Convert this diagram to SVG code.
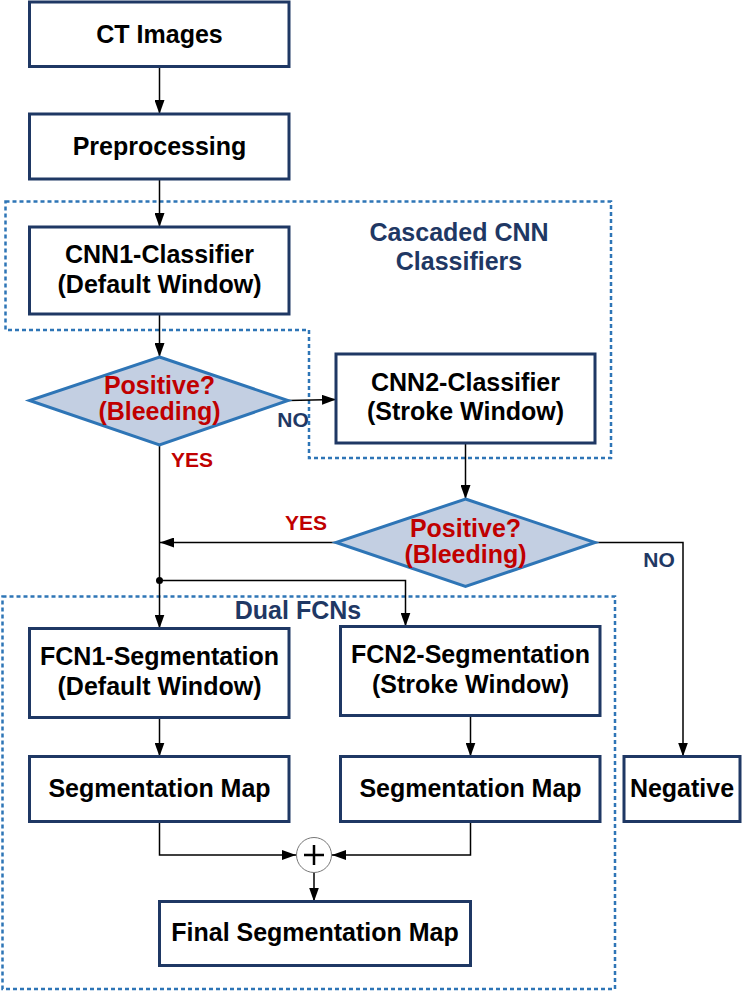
<svg xmlns="http://www.w3.org/2000/svg" width="742" height="992" viewBox="0 0 742 992">
<style>
.box{fill:#fff;stroke:#1F3864;stroke-width:3}
.dia{fill:#C3CFE2;stroke:#2E75B6;stroke-width:3}
.grp{fill:none;stroke:#2E75B6;stroke-width:2.5;stroke-dasharray:4 3}
.t{font-family:"Liberation Sans",Arial,sans-serif;font-weight:bold;font-size:25px;text-anchor:middle;fill:#000}
.r{fill:#C00000}
.b{fill:#1F3864}
.s{font-size:21px}
.c{fill:none;stroke:#000;stroke-width:1.5}
</style>
<defs>
<marker id="ah" viewBox="0 0 14 10" refX="14" refY="5" markerWidth="14" markerHeight="10" markerUnits="userSpaceOnUse" orient="auto">
<path d="M0,0 L14,5 L0,10 Z" fill="#000"/>
</marker>
</defs>
<g id="groups">
<polygon class="grp" points="5.5,201.5 611,201.5 611,458 309,458 309,330 5.5,330"/>
<rect class="grp" x="2.5" y="596.5" width="612.5" height="392.5"/>
<text class="t b" x="459" y="241">Cascaded CNN</text>
<text class="t b" x="459" y="270">Classifiers</text>
<text class="t b" x="298" y="619">Dual FCNs</text>
</g>
<g id="connectors">
<line class="c" x1="159.5" y1="66" x2="159.5" y2="114" marker-end="url(#ah)"/>
<line class="c" x1="159.5" y1="179" x2="159.5" y2="227" marker-end="url(#ah)"/>
<line class="c" x1="159.5" y1="314" x2="159.5" y2="357" marker-end="url(#ah)"/>
<line class="c" x1="288" y1="400.5" x2="336" y2="399.5" marker-end="url(#ah)"/>
<line class="c" x1="465.5" y1="443" x2="465.5" y2="499" marker-end="url(#ah)"/>
<line class="c" x1="336" y1="542.5" x2="160" y2="542.5" marker-end="url(#ah)"/>
<polyline class="c" points="595,542.5 683,542.5 683,756.5" marker-end="url(#ah)"/>
<line class="c" x1="159.5" y1="445" x2="159.5" y2="628.5" marker-end="url(#ah)"/>
<polyline class="c" points="159.5,580.5 405.5,580.5 405.5,626.5" marker-end="url(#ah)"/>
<circle cx="159.5" cy="580.5" r="3.5" fill="#000"/>
<line class="c" x1="159.5" y1="717.5" x2="159.5" y2="756.5" marker-end="url(#ah)"/>
<line class="c" x1="470.5" y1="715.5" x2="470.5" y2="756.5" marker-end="url(#ah)"/>
<polyline class="c" points="159.5,822 159.5,855 296,855" marker-end="url(#ah)"/>
<polyline class="c" points="470.5,822 470.5,855 332,855" marker-end="url(#ah)"/>
<line class="c" x1="314" y1="872.5" x2="314" y2="901.5" marker-end="url(#ah)"/>
<text class="t b s" x="293" y="427">NO</text>
<text class="t r s" x="192" y="467">YES</text>
<text class="t r s" x="306" y="530">YES</text>
<text class="t b s" x="659" y="567">NO</text>
</g>
<g id="ct">
<rect class="box" x="29.5" y="2" width="259.5" height="64.5"/>
<text class="t" x="159.5" y="43">CT Images</text>
</g>
<g id="pre">
<rect class="box" x="29.5" y="114" width="259.5" height="65"/>
<text class="t" x="159.5" y="155">Preprocessing</text>
</g>
<g id="cnn1">
<rect class="box" x="29.5" y="227" width="259.5" height="87"/>
<text class="t" x="159.5" y="263">CNN1-Classifier</text>
<text class="t" x="159.5" y="293">(Default Window)</text>
</g>
<g id="pos1">
<polygon class="dia" points="159.5,357 288,400.5 159.5,445 29.5,400.5"/>
<text class="t r" x="159.5" y="394">Positive?</text>
<text class="t r" x="159.5" y="420">(Bleeding)</text>
</g>
<g id="cnn2">
<rect class="box" x="336" y="354" width="259" height="89"/>
<text class="t" x="465.5" y="391">CNN2-Classifier</text>
<text class="t" x="465.5" y="420">(Stroke Window)</text>
</g>
<g id="pos2">
<polygon class="dia" points="465.5,499 595,542.5 465.5,586.5 336,542.5"/>
<text class="t r" x="465.5" y="537">Positive?</text>
<text class="t r" x="465.5" y="563">(Bleeding)</text>
</g>
<g id="fcn1">
<rect class="box" x="29.5" y="628.5" width="259.5" height="89"/>
<text class="t" x="159.5" y="665">FCN1-Segmentation</text>
<text class="t" x="159.5" y="695">(Default Window)</text>
</g>
<g id="fcn2">
<rect class="box" x="340.5" y="626.5" width="259.5" height="89"/>
<text class="t" x="470.5" y="663">FCN2-Segmentation</text>
<text class="t" x="470.5" y="693">(Stroke Window)</text>
</g>
<g id="seg1">
<rect class="box" x="29.5" y="756.5" width="259.5" height="65"/>
<text class="t" x="159.5" y="797">Segmentation Map</text>
</g>
<g id="seg2">
<rect class="box" x="340.5" y="756.5" width="259.5" height="65"/>
<text class="t" x="470.5" y="797">Segmentation Map</text>
</g>
<g id="neg">
<rect class="box" x="624" y="756.5" width="116" height="65"/>
<text class="t" x="682" y="797">Negative</text>
</g>
<g id="sum">
<circle cx="314" cy="855" r="17.5" fill="#fff" stroke="#777" stroke-width="1"/>
<path d="M304,855 H324 M314,845 V865" stroke="#000" stroke-width="2.5"/>
</g>
<g id="final">
<rect class="box" x="159.5" y="901.5" width="311" height="64"/>
<text class="t" x="315" y="941">Final Segmentation Map</text>
</g>
</svg>
